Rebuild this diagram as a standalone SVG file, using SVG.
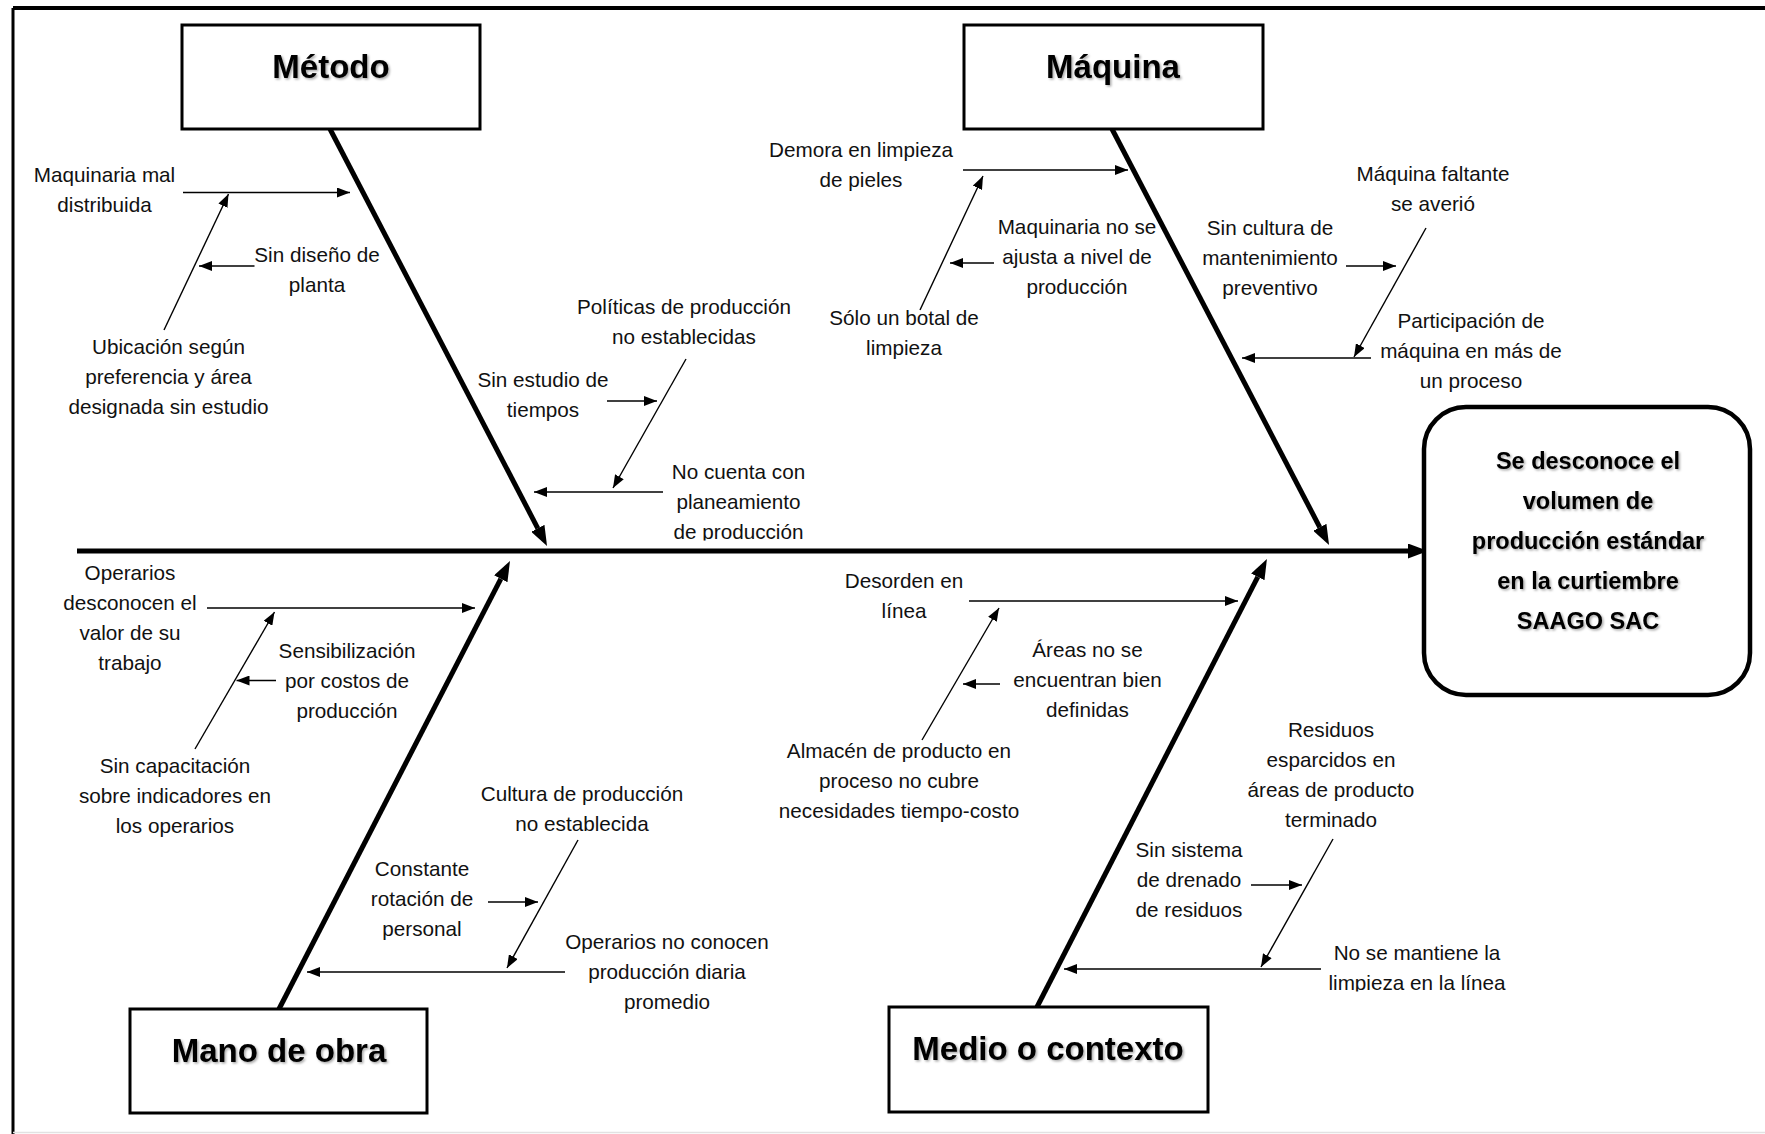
<svg xmlns="http://www.w3.org/2000/svg" width="1765" height="1134" viewBox="0 0 1765 1134">
  <defs>
    <style>
      .lbl { font-family: "Liberation Sans", Arial, sans-serif; font-size: 20.7px; fill: #111; text-anchor: middle; }
      .ttl { font-family: "Liberation Sans", Arial, sans-serif; font-size: 33px; font-weight: bold; fill: #000; text-anchor: middle; filter: url(#shadow); }
      .eff { font-family: "Liberation Sans", Arial, sans-serif; font-size: 23.5px; font-weight: bold; fill: #000; text-anchor: middle; filter: url(#shadow); }
      .box { fill: #fff; stroke: #000; stroke-width: 3; }
      .bone { stroke: #000; stroke-width: 5; fill: none; }
      .thin { stroke: #000; stroke-width: 1.4; fill: none; marker-end: url(#ah); }
    </style>
    <filter id="shadow" x="-10%" y="-30%" width="120%" height="160%">
      <feDropShadow dx="1.5" dy="1.5" stdDeviation="1.2" flood-color="#000" flood-opacity="0.35"/>
    </filter>
    <marker id="ah" markerUnits="userSpaceOnUse" markerWidth="13" markerHeight="10" refX="13" refY="5" orient="auto">
      <path d="M0,0 L13,5 L0,10 z" fill="#000"/>
    </marker>
    <marker id="bh" markerUnits="userSpaceOnUse" markerWidth="20" markerHeight="15" refX="0" refY="7.5" orient="auto">
      <path d="M0,0 L20,7.5 L0,15 z" fill="#000"/>
    </marker>
    <clipPath id="clipA"><rect x="600" y="440" width="280" height="100.5"/></clipPath>
    <clipPath id="clipB"><rect x="1300" y="930" width="260" height="61.5"/></clipPath>
  </defs>

  <rect x="0" y="0" width="1765" height="1134" fill="#fff"/>

  <g id="frame">
    <line x1="13" y1="8" x2="1765" y2="8" stroke="#000" stroke-width="4"/>
    <line x1="13" y1="8" x2="13" y2="1134" stroke="#000" stroke-width="3"/>
    <line x1="13" y1="1132.5" x2="1765" y2="1132.5" stroke="#e2e2e2" stroke-width="1.5"/>
  </g>

  <g id="connectors">
    <!-- spine -->
    <line class="bone" x1="77" y1="551" x2="1408" y2="551" marker-end="url(#bh)"/>
    <!-- main bones -->
    <line class="bone" x1="330" y1="129" x2="537.8" y2="528.3" marker-end="url(#bh)"/>
    <line class="bone" x1="1112" y1="129" x2="1319.8" y2="527.3" marker-end="url(#bh)"/>
    <line class="bone" x1="279" y1="1009" x2="500.8" y2="578.8" marker-end="url(#bh)"/>
    <line class="bone" x1="1037" y1="1007" x2="1257.8" y2="576.8" marker-end="url(#bh)"/>
    <!-- Método -->
    <line class="thin" x1="183" y1="192.5" x2="350" y2="192.5"/>
    <line class="thin" x1="164" y1="330" x2="228.5" y2="194"/>
    <line class="thin" x1="254.5" y1="266" x2="199" y2="266"/>
    <line class="thin" x1="686" y1="359" x2="613" y2="488"/>
    <line class="thin" x1="607" y1="401" x2="657" y2="401"/>
    <line class="thin" x1="663" y1="492" x2="534" y2="492"/>
    <!-- Máquina -->
    <line class="thin" x1="963" y1="170" x2="1128" y2="170"/>
    <line class="thin" x1="920" y1="310" x2="983" y2="176"/>
    <line class="thin" x1="994" y1="263" x2="950" y2="263"/>
    <line class="thin" x1="1426" y1="228" x2="1354" y2="357"/>
    <line class="thin" x1="1346" y1="266" x2="1396" y2="266"/>
    <line class="thin" x1="1371" y1="358" x2="1242" y2="358"/>
    <!-- Mano de obra -->
    <line class="thin" x1="207" y1="608" x2="475" y2="608"/>
    <line class="thin" x1="195" y1="749" x2="274.5" y2="612"/>
    <line class="thin" x1="276" y1="680.5" x2="236.5" y2="680.5"/>
    <line class="thin" x1="578" y1="840" x2="507" y2="968"/>
    <line class="thin" x1="488" y1="902" x2="538" y2="902"/>
    <line class="thin" x1="565" y1="972" x2="307" y2="972"/>
    <!-- Medio o contexto -->
    <line class="thin" x1="969" y1="601" x2="1238" y2="601"/>
    <line class="thin" x1="922" y1="740" x2="999" y2="608"/>
    <line class="thin" x1="1000" y1="684" x2="963" y2="684"/>
    <line class="thin" x1="1333" y1="839" x2="1261" y2="967"/>
    <line class="thin" x1="1251" y1="885" x2="1302" y2="885"/>
    <line class="thin" x1="1321" y1="969" x2="1064" y2="969"/>
  </g>

  <g id="metodo">
    <rect class="box" x="182" y="25" width="298" height="104"/>
    <text class="ttl" x="331" y="78">Método</text>
  </g>
  <g id="maquina">
    <rect class="box" x="964" y="25" width="299" height="104"/>
    <text class="ttl" x="1113" y="78">Máquina</text>
  </g>
  <g id="mano-de-obra">
    <rect class="box" x="130" y="1009" width="297" height="104"/>
    <text class="ttl" x="279" y="1062">Mano de obra</text>
  </g>
  <g id="medio-contexto">
    <rect class="box" x="889" y="1007" width="319" height="105"/>
    <text class="ttl" x="1048" y="1060">Medio o contexto</text>
  </g>
  <g id="efecto">
    <rect x="1424" y="407" width="326" height="288" rx="42" ry="42" fill="#fff" stroke="#000" stroke-width="4.5"/>
    <text class="eff" x="1588" y="469">Se desconoce el</text>
    <text class="eff" x="1588" y="509">volumen de</text>
    <text class="eff" x="1588" y="549">producción estándar</text>
    <text class="eff" x="1588" y="589">en la curtiembre</text>
    <text class="eff" x="1588" y="629">SAAGO SAC</text>
  </g>

  <!-- Método causes -->
  <g id="c-maquinaria-mal"><text class="lbl" x="104.5" y="182">Maquinaria mal</text><text class="lbl" x="104.5" y="212">distribuida</text></g>
  <g id="c-sin-diseno"><text class="lbl" x="317" y="262">Sin diseño de</text><text class="lbl" x="317" y="292">planta</text></g>
  <g id="c-ubicacion"><text class="lbl" x="168.5" y="354">Ubicación según</text><text class="lbl" x="168.5" y="384">preferencia y área</text><text class="lbl" x="168.5" y="414">designada sin estudio</text></g>
  <g id="c-politicas"><text class="lbl" x="684" y="314">Políticas de producción</text><text class="lbl" x="684" y="344">no establecidas</text></g>
  <g id="c-sin-estudio"><text class="lbl" x="543" y="387">Sin estudio de</text><text class="lbl" x="543" y="417">tiempos</text></g>
  <g id="c-no-cuenta" clip-path="url(#clipA)"><text class="lbl" x="738.5" y="479">No cuenta con</text><text class="lbl" x="738.5" y="509">planeamiento</text><text class="lbl" x="738.5" y="539">de producción</text></g>

  <!-- Máquina causes -->
  <g id="c-demora"><text class="lbl" x="861" y="157">Demora en limpieza</text><text class="lbl" x="861" y="187">de pieles</text></g>
  <g id="c-maquinaria-no"><text class="lbl" x="1077" y="234">Maquinaria no se</text><text class="lbl" x="1077" y="264">ajusta a nivel de</text><text class="lbl" x="1077" y="294">producción</text></g>
  <g id="c-solo-botal"><text class="lbl" x="904" y="325">Sólo un botal de</text><text class="lbl" x="904" y="355">limpieza</text></g>
  <g id="c-maquina-faltante"><text class="lbl" x="1433" y="181">Máquina faltante</text><text class="lbl" x="1433" y="211">se averió</text></g>
  <g id="c-sin-cultura"><text class="lbl" x="1270" y="235">Sin cultura de</text><text class="lbl" x="1270" y="265">mantenimiento</text><text class="lbl" x="1270" y="295">preventivo</text></g>
  <g id="c-participacion"><text class="lbl" x="1471" y="328">Participación de</text><text class="lbl" x="1471" y="358">máquina en más de</text><text class="lbl" x="1471" y="388">un proceso</text></g>

  <!-- Mano de obra causes -->
  <g id="c-operarios-desconocen"><text class="lbl" x="130" y="579.5">Operarios</text><text class="lbl" x="130" y="609.5">desconocen el</text><text class="lbl" x="130" y="639.5">valor de su</text><text class="lbl" x="130" y="669.5">trabajo</text></g>
  <g id="c-sensibilizacion"><text class="lbl" x="347" y="658">Sensibilización</text><text class="lbl" x="347" y="688">por costos de</text><text class="lbl" x="347" y="718">producción</text></g>
  <g id="c-sin-capacitacion"><text class="lbl" x="175" y="773">Sin capacitación</text><text class="lbl" x="175" y="803">sobre indicadores en</text><text class="lbl" x="175" y="833">los operarios</text></g>
  <g id="c-cultura"><text class="lbl" x="582" y="801">Cultura de producción</text><text class="lbl" x="582" y="831">no establecida</text></g>
  <g id="c-constante"><text class="lbl" x="422" y="875.5">Constante</text><text class="lbl" x="422" y="905.5">rotación de</text><text class="lbl" x="422" y="935.5">personal</text></g>
  <g id="c-operarios-no"><text class="lbl" x="667" y="948.5">Operarios no conocen</text><text class="lbl" x="667" y="978.5">producción diaria</text><text class="lbl" x="667" y="1008.5">promedio</text></g>

  <!-- Medio o contexto causes -->
  <g id="c-desorden"><text class="lbl" x="904" y="588">Desorden en</text><text class="lbl" x="904" y="618">línea</text></g>
  <g id="c-areas"><text class="lbl" x="1087.5" y="657">Áreas no se</text><text class="lbl" x="1087.5" y="687">encuentran bien</text><text class="lbl" x="1087.5" y="717">definidas</text></g>
  <g id="c-almacen"><text class="lbl" x="899" y="758">Almacén de producto en</text><text class="lbl" x="899" y="788">proceso no cubre</text><text class="lbl" x="899" y="818">necesidades tiempo-costo</text></g>
  <g id="c-residuos"><text class="lbl" x="1331" y="737">Residuos</text><text class="lbl" x="1331" y="767">esparcidos en</text><text class="lbl" x="1331" y="797">áreas de producto</text><text class="lbl" x="1331" y="827">terminado</text></g>
  <g id="c-sin-sistema"><text class="lbl" x="1189" y="857">Sin sistema</text><text class="lbl" x="1189" y="887">de drenado</text><text class="lbl" x="1189" y="917">de residuos</text></g>
  <g id="c-no-se-mantiene" clip-path="url(#clipB)"><text class="lbl" x="1417" y="960">No se mantiene la</text><text class="lbl" x="1417" y="990">limpieza en la línea</text></g>
</svg>
